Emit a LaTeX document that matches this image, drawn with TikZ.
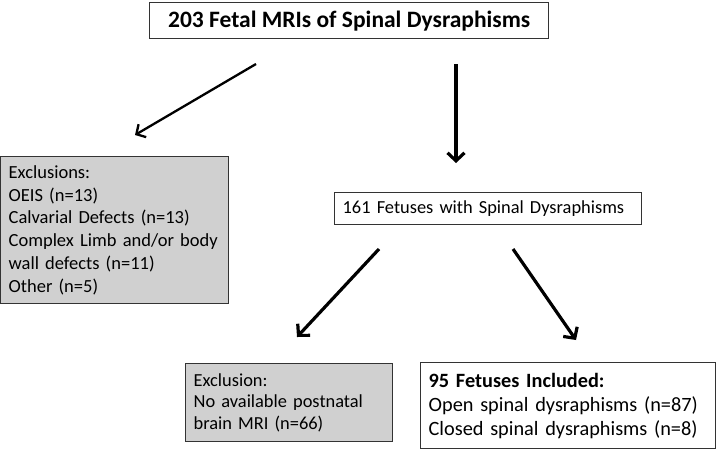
\documentclass[tikz,border=0pt]{standalone}
\usepackage{fontspec}
\setmainfont{Carlito}
\usetikzlibrary{arrows.meta}
\definecolor{boxgray}{HTML}{D0D0D0}
\definecolor{edge}{HTML}{333333}
\tikzset{
  box/.style={draw=edge, line width=1.3pt, anchor=north west, inner xsep=8pt, inner ysep=2pt, align=left},
  graybox/.style={box, fill=boxgray},
  arr/.style={line width=3.2pt, -{Straight Barb[length=8pt,width=17pt]}},
  thinarr/.style={line width=2.3pt, -{Straight Barb[length=7pt,width=15pt]}}
}
\begin{document}
\begin{tikzpicture}[x=1pt,y=-1pt]
\useasboundingbox[fill=white] (0,0) rectangle (720,450);
% boxes
\node[box, minimum width=399pt, minimum height=36pt, align=center, font=\fontsize{23.5}{27}\selectfont\bfseries] (top) at (149,2) {203 Fetal MRIs of Spinal Dysraphisms};
\node[graybox, text width=212pt, minimum height=147pt, font=\fontsize{18.5}{22.7}\selectfont] (excl) at (0,156) {Exclusions:\\OEIS (n=13)\\Calvarial Defects (n=13)\\Complex Limb and/or body\\wall defects (n=11)\\Other (n=5)};
\node[box, text width=291pt, minimum height=32pt, font=\fontsize{18.4}{21}\selectfont] (mid) at (334,192) {161 Fetuses with Spinal Dysraphisms};
\node[graybox, text width=191pt, minimum height=78pt, font=\fontsize{18.4}{21.7}\selectfont] (exc2) at (185,363) {Exclusion:\\No available postnatal\\brain MRI (n=66)};
\node[box, text width=279pt, minimum height=86pt, font=\fontsize{20.3}{24}\selectfont] (incl) at (420,362) {\textbf{95 Fetuses Included:}\\Open spinal dysraphisms (n=87)\\Closed spinal dysraphisms (n=8)};
% arrow endpoints
\coordinate (a1s) at (256,64);
\coordinate (a1e) at (135,135);
\coordinate (a2s) at (456,64);
\coordinate (a2e) at (456,163);
\coordinate (a3s) at (379,249);
\coordinate (a3e) at (297,337);
\coordinate (a4s) at (513,249);
\coordinate (a4e) at (576,340);
\draw[thinarr] (a1s) -- (a1e);
\draw[arr] (a2s) -- (a2e);
\draw[arr] (a3s) -- (a3e);
\draw[arr] (a4s) -- (a4e);
\end{tikzpicture}
\end{document}
